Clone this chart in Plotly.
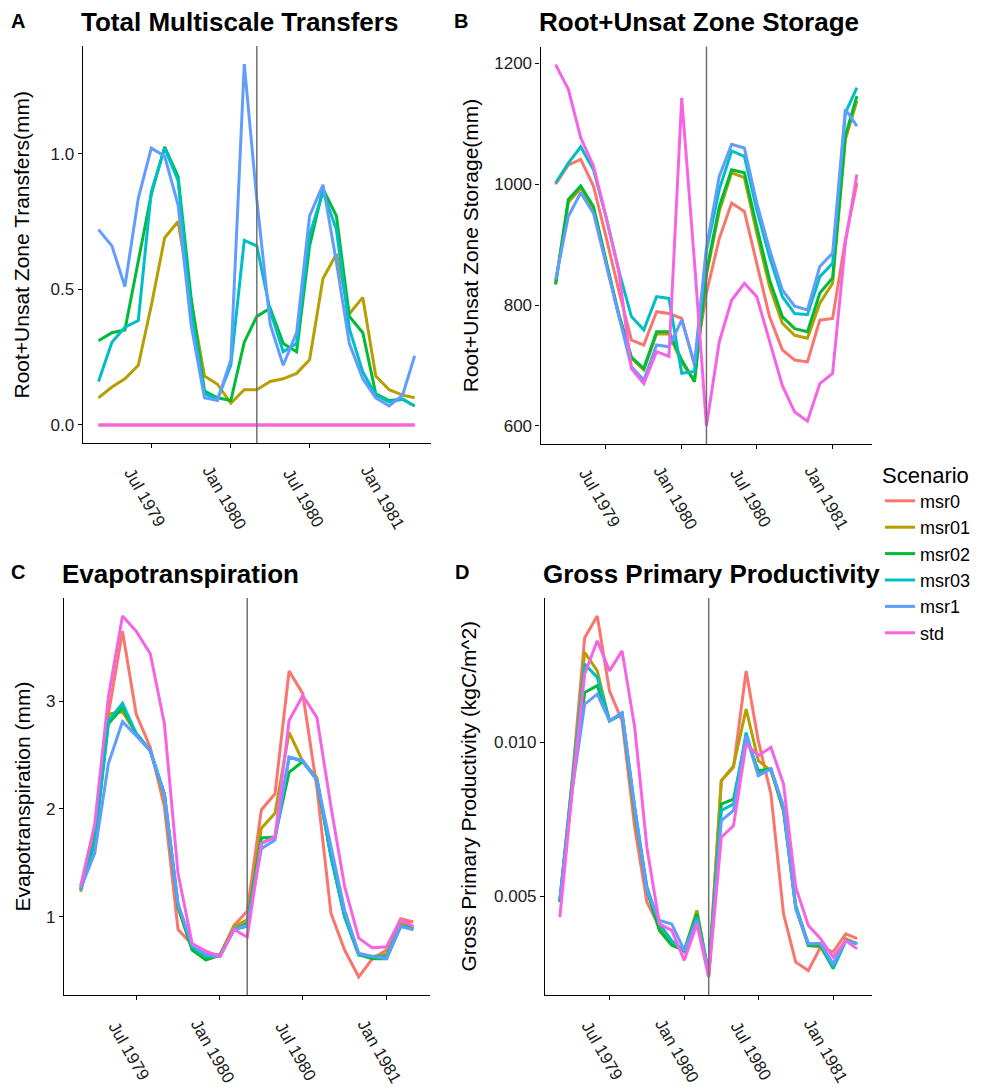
import plotly.graph_objects as go
import pandas as pd

# ---------------- data ----------------
months = pd.date_range("1979-03-01", "1981-03-01", freq="MS")
split_date = "1980-03-01"
scenarios = ["msr0", "msr01", "msr02", "msr03", "msr1", "std"]
colors = ["#F8766D", "#B79F00", "#00BA38", "#00BFC4", "#619CFF", "#F564E3"]
tick_dates = ["1979-07-01", "1980-01-01", "1980-07-01", "1981-01-01"]
tick_labels = ["Jul 1979", "Jan 1980", "Jul 1980", "Jan 1981"]

# A: Total multiscale transfers (mm)
transfers_msr0 = [0.0] * 25
transfers_msr01 = [0.10, 0.14, 0.17, 0.22, 0.44, 0.69, 0.75, 0.46, 0.18, 0.15, 0.08, 0.13, 0.13,
                   0.16, 0.17, 0.19, 0.24, 0.54, 0.63, 0.41, 0.47, 0.18, 0.13, 0.11, 0.10]
transfers_msr02 = [0.31, 0.34, 0.35, 0.60, 0.85, 1.025, 0.915, 0.47, 0.125, 0.10, 0.09, 0.305, 0.40,
                   0.43, 0.30, 0.27, 0.66, 0.87, 0.77, 0.40, 0.34, 0.115, 0.09, 0.095, 0.07]
transfers_msr03 = [0.16, 0.305, 0.36, 0.385, 0.86, 1.02, 0.90, 0.42, 0.115, 0.095, 0.22, 0.68, 0.66,
                   0.42, 0.27, 0.30, 0.70, 0.86, 0.72, 0.355, 0.195, 0.11, 0.085, 0.095, 0.07]
transfers_msr1 = [0.72, 0.66, 0.51, 0.835, 1.02, 0.99, 0.81, 0.37, 0.10, 0.09, 0.24, 1.33, 0.83,
                  0.37, 0.22, 0.34, 0.77, 0.885, 0.60, 0.30, 0.17, 0.10, 0.07, 0.11, 0.255]
transfers_std = [0.0] * 25

# B: Root+Unsat zone storage (mm)
storage_msr0 = [1000, 1032, 1041, 997, 914, 825, 742, 734, 789, 786, 778, 700, 820,
                910, 969, 955, 869, 781, 726, 709, 706, 775, 778, 908, 1002]
storage_msr01 = [835, 970, 993, 958, 872, 783, 712, 693, 752, 752, 705, 675, 850,
                 955, 1019, 1011, 919, 831, 770, 750, 745, 803, 836, 1074, 1138]
storage_msr02 = [834, 975, 997, 963, 875, 786, 714, 695, 756, 756, 709, 673, 855,
                 963, 1024, 1019, 930, 842, 781, 761, 756, 820, 845, 1080, 1146]
storage_msr03 = [1002, 1035, 1062, 1024, 947, 858, 781, 759, 814, 811, 687, 690, 890,
                 991, 1055, 1046, 958, 880, 814, 786, 784, 847, 869, 1118, 1160]
storage_msr1 = [842, 947, 986, 952, 869, 781, 698, 676, 734, 731, 775, 703, 895,
                1013, 1066, 1060, 969, 892, 825, 798, 792, 864, 886, 1124, 1096]
storage_std = [1198, 1157, 1077, 1030, 947, 858, 695, 670, 723, 715, 1143, 871, 600,
               739, 808, 836, 814, 742, 667, 623, 608, 670, 687, 903, 1016]

# C: Evapotranspiration (mm)
et_msr0 = [1.28, 1.83, 2.88, 3.65, 2.88, 2.57, 2.02, 0.88, 0.74, 0.66, 0.645, 0.92, 1.05,
           1.99, 2.14, 3.28, 3.07, 2.20, 1.03, 0.69, 0.44, 0.61, 0.69, 0.98, 0.95]
et_msr01 = [1.23, 1.80, 2.88, 2.90, 2.70, 2.54, 2.10, 1.08, 0.70, 0.60, 0.64, 0.91, 0.97,
            1.82, 1.96, 2.71, 2.44, 2.29, 1.56, 1.00, 0.645, 0.63, 0.65, 0.94, 0.89]
et_msr02 = [1.25, 1.70, 2.79, 2.94, 2.70, 2.54, 2.14, 1.09, 0.69, 0.60, 0.645, 0.88, 0.94,
            1.73, 1.74, 2.34, 2.44, 2.27, 1.56, 1.00, 0.645, 0.61, 0.61, 0.91, 0.90]
et_msr03 = [1.25, 1.68, 2.82, 2.98, 2.70, 2.54, 2.14, 1.12, 0.72, 0.63, 0.63, 0.88, 0.91,
            1.68, 1.74, 2.48, 2.44, 2.27, 1.56, 1.00, 0.645, 0.63, 0.63, 0.91, 0.88]
et_msr1 = [1.26, 1.59, 2.42, 2.81, 2.68, 2.54, 2.13, 1.11, 0.74, 0.645, 0.63, 0.88, 0.92,
           1.63, 1.71, 2.48, 2.45, 2.27, 1.65, 1.06, 0.66, 0.63, 0.61, 0.91, 0.88]
et_std = [1.28, 1.86, 3.04, 3.79, 3.65, 3.44, 2.79, 1.40, 0.75, 0.68, 0.63, 0.88, 0.81,
          1.68, 1.74, 2.82, 3.05, 2.85, 2.02, 1.28, 0.80, 0.71, 0.72, 0.97, 0.91]

# D: Gross primary productivity (kgC/m^2)
gpp_msr0 = [0.00487, 0.0089, 0.0134, 0.0141, 0.01167, 0.0107, 0.00725, 0.00482, 0.0040, 0.00352,
            0.0032, 0.00444, 0.00239, 0.00876, 0.00919, 0.01232, 0.01005, 0.00833, 0.00444,
            0.00287, 0.0026, 0.00336, 0.0032, 0.00379, 0.00363]
gpp_msr01 = [0.00482, 0.0088, 0.01292, 0.01232, 0.0107, 0.01092, 0.00768, 0.0053, 0.0039, 0.00347,
             0.00325, 0.00455, 0.0025, 0.00876, 0.00924, 0.01108, 0.00941, 0.00908, 0.00779,
             0.00465, 0.00341, 0.00336, 0.00271, 0.00363, 0.00347]
gpp_msr02 = [0.00482, 0.0086, 0.01162, 0.01184, 0.0107, 0.01092, 0.00779, 0.0052, 0.0039, 0.00342,
             0.00325, 0.00444, 0.0025, 0.0080, 0.00816, 0.01016, 0.00908, 0.00914, 0.00779,
             0.00465, 0.00341, 0.00341, 0.00266, 0.00357, 0.00347]
gpp_msr03 = [0.00487, 0.0087, 0.01254, 0.01211, 0.0107, 0.01092, 0.0079, 0.0053, 0.00411, 0.00357,
             0.00325, 0.00433, 0.0025, 0.00779, 0.0080, 0.01032, 0.00897, 0.00914, 0.0079,
             0.00471, 0.00347, 0.00347, 0.00271, 0.00357, 0.00347]
gpp_msr1 = [0.00492, 0.0085, 0.01124, 0.01157, 0.0107, 0.01097, 0.0079, 0.0052, 0.00422, 0.00411,
            0.00325, 0.00422, 0.0025, 0.00746, 0.00779, 0.01022, 0.00892, 0.00914, 0.0079,
            0.0046, 0.00347, 0.00347, 0.00282, 0.00357, 0.00347]
gpp_std = [0.00433, 0.0085, 0.01222, 0.0133, 0.01232, 0.01297, 0.01049, 0.0066, 0.00411, 0.0039,
           0.00293, 0.00411, 0.00239, 0.00692, 0.0073, 0.00995, 0.00957, 0.00984, 0.00865,
           0.0053, 0.00406, 0.00363, 0.00303, 0.00357, 0.0033]

panel_letters = ["A", "B", "C", "D"]
panel_titles = ["Total Multiscale Transfers", "Root+Unsat Zone Storage",
                "Evapotranspiration", "Gross Primary Productivity"]
panel_ylabels = ["Root+Unsat Zone Transfers(mm)", "Root+Unsat Zone Storage(mm)",
                 "Evapotranspiration (mm)", "Gross Primary Productivity (kgC/m^2)"]
panel_dticks = [0.5, 200, 1, 0.005]
panel_formats = [".1f", "d", "d", ".3f"]

panel_data = [
    [transfers_msr0, transfers_msr01, transfers_msr02, transfers_msr03, transfers_msr1, transfers_std],
    [storage_msr0, storage_msr01, storage_msr02, storage_msr03, storage_msr1, storage_std],
    [et_msr0, et_msr01, et_msr02, et_msr03, et_msr1, et_std],
    [gpp_msr0, gpp_msr01, gpp_msr02, gpp_msr03, gpp_msr1, gpp_std],
]

# ---------------- layout geometry (pixels) ----------------
W, H = 982, 1092
# (x0, x1, ytop, ybottom)
boxes = [(82.7, 430.5, 46, 443), (540.5, 872, 46.5, 444),
         (64, 430, 598, 995), (545, 872, 598, 995)]
ytitle_x = [21, 470, 22, 468]
letter_pos = [(18, 21), (461, 21), (18, 572), (462, 572)]
title_y = [22, 22, 574, 574]
ticklab_y = [498, 498, 1051, 1051]

FONT = "Liberation Sans, Arial, Helvetica, sans-serif"

fig = go.Figure()
span = months[-1] - months[0]
xr = [months[0] - span * 0.05, months[-1] + span * 0.05]

annotations = []
shapes = []
layout_axes = {}
for p in range(4):
    ax = "" if p == 0 else str(p + 1)
    xa, ya = "x" + ax, "y" + ax
    allv = [v for s in panel_data[p] for v in s]
    vmin, vmax = min(allv), max(allv)
    pad = (vmax - vmin) * 0.05
    for s, name in enumerate(scenarios):
        fig.add_trace(go.Scatter(
            x=months, y=panel_data[p][s], mode="lines", name=name,
            line=dict(color=colors[s], width=3),
            legendgroup=name, showlegend=(p == 0),
            xaxis=xa, yaxis=ya))
    x0, x1, yt, yb = boxes[p]
    common = dict(showline=True, linecolor="black", linewidth=1.1, ticks="outside",
                  ticklen=4, tickwidth=1.1, tickcolor="black", showgrid=False,
                  zeroline=False, mirror=False)
    layout_axes["xaxis" + ax] = dict(common, type="date", range=xr,
                                     domain=[x0 / W, x1 / W], anchor=ya,
                                     tickvals=tick_dates, showticklabels=False)
    layout_axes["yaxis" + ax] = dict(common, range=[vmin - pad, vmax + pad],
                                     domain=[1 - yb / H, 1 - yt / H], anchor=xa,
                                     dtick=panel_dticks[p], tick0=0,
                                     tickformat=panel_formats[p],
                                     tickfont=dict(size=17, color="#222222", family=FONT))
    shapes.append(dict(type="line", xref=xa, yref=ya + " domain", x0=split_date, x1=split_date,
                       y0=0, y1=1, line=dict(color="#707070", width=1.5)))
    for td, tl in zip(tick_dates, tick_labels):
        annotations.append(dict(x=td, xref=xa, y=1 - ticklab_y[p] / H, yref="paper",
                                text=tl, textangle=60, showarrow=False, xshift=-7,
                                xanchor="center", yanchor="middle",
                                font=dict(size=17, color="#222222", family=FONT)))
    annotations.append(dict(x=(x0 - 4) / W, y=1 - title_y[p] / H, xref="paper", yref="paper",
                            text="<b>" + panel_titles[p] + "</b>", showarrow=False,
                            xanchor="left", yanchor="middle",
                            font=dict(size=26, color="black", family=FONT)))
    lx, ly = letter_pos[p]
    annotations.append(dict(x=lx / W, y=1 - ly / H, xref="paper", yref="paper",
                            text="<b>" + panel_letters[p] + "</b>", showarrow=False,
                            xanchor="center", yanchor="middle",
                            font=dict(size=20, color="black", family=FONT)))
    annotations.append(dict(x=ytitle_x[p] / W, y=1 - (yt + yb) / 2 / H, xref="paper",
                            yref="paper", text=panel_ylabels[p], textangle=-90,
                            showarrow=False, xanchor="center", yanchor="middle",
                            font=dict(size=21, color="black", family=FONT)))

fig.update_layout(
    width=W, height=H, margin=dict(l=0, r=0, t=0, b=0),
    paper_bgcolor="white", plot_bgcolor="white",
    font=dict(family=FONT, color="black"),
    showlegend=True,
    legend=dict(title=dict(text="Scenario", font=dict(size=22)),
                font=dict(size=18), x=880 / W, y=1 - 454 / H,
                xanchor="left", yanchor="top", bgcolor="rgba(0,0,0,0)",
                itemwidth=30, tracegroupgap=0),
    annotations=annotations, shapes=shapes,
    **layout_axes)

fig.write_html("out.html")
